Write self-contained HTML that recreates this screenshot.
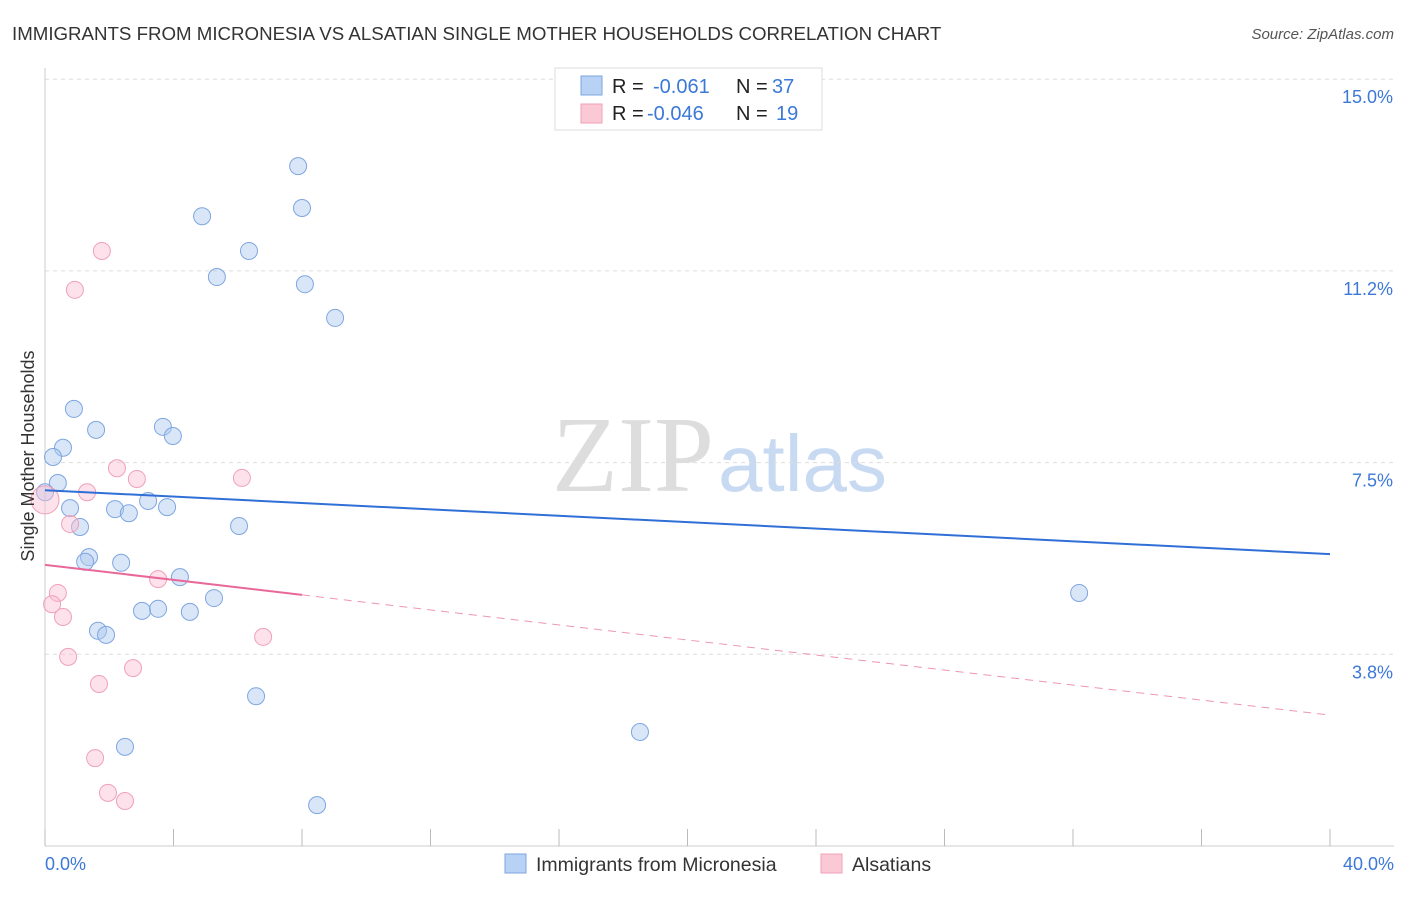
<!DOCTYPE html>
<html><head><meta charset="utf-8"><style>
body{margin:0;background:#fff;font-family:"Liberation Sans",sans-serif;}
svg text{font-family:"Liberation Sans",sans-serif;}
</style></head><body>
<svg id="chart" width="1406" height="892">
<text x="12" y="40" font-size="18.7" fill="#333">IMMIGRANTS FROM MICRONESIA VS ALSATIAN SINGLE MOTHER HOUSEHOLDS CORRELATION CHART</text>
<text x="1394" y="39" font-size="15" fill="#555" font-style="italic" text-anchor="end">Source: ZipAtlas.com</text>
<text x="714" y="491" font-size="108" fill="#ddd" text-anchor="end" style="font-family:'Liberation Serif',serif">ZIP</text>
<text x="718" y="491" font-size="80" fill="#c8daf2">atlas</text>
<g id="grid"></g><g id="axes"></g><g id="marks"></g>
<text transform="translate(34,456) rotate(-90)" font-size="18" fill="#333" text-anchor="middle">Single Mother Households</text>
<text x="45" y="870" font-size="18" fill="#3b78d8">0.0%</text>
<text x="1394" y="870" font-size="18" fill="#3b78d8" text-anchor="end">40.0%</text>
<g>
<rect x="555" y="68" width="267" height="62" fill="#fff" stroke="#ddd"/>
<rect x="581" y="76" width="21" height="19" fill="#b8d2f5" stroke="#7ea6e0"/>
<rect x="581" y="104" width="21" height="19" fill="#fbc8d6" stroke="#f0a0b8"/>
<text y="93" font-size="20" fill="#222"><tspan x="612">R =</tspan><tspan x="653" fill="#3b78d8">-0.061</tspan><tspan x="736">N =</tspan><tspan x="772" fill="#3b78d8">37</tspan></text>
<text y="120" font-size="20" fill="#222"><tspan x="612">R =</tspan><tspan x="647" fill="#3b78d8">-0.046</tspan><tspan x="736">N =</tspan><tspan x="776" fill="#3b78d8">19</tspan></text>
</g>
<g>
<rect x="505" y="854" width="21" height="19" fill="#b8d2f5" stroke="#7ea6e0"/>
<text x="536" y="871" font-size="19.5" fill="#333">Immigrants from Micronesia</text>
<rect x="821" y="854" width="21" height="19" fill="#fbc8d6" stroke="#f0a0b8"/>
<text x="852" y="871" font-size="19.5" fill="#333">Alsatians</text>
</g>
</svg>
<script>
const yTicks=[3.75,7.5,11.25,15];
const yTickLabels=["3.8%","7.5%","11.2%","15.0%"];
const xTicks=[0,4,8,12,16,20,24,28,32,36,40];
const blueX=[7.88,8.00,4.89,6.35,5.35,8.09,9.03,0.90,1.59,3.67,3.98,0.56,0.25,0.40,0.0,0.78,2.18,2.61,3.21,3.80,1.09,6.04,1.37,1.25,2.37,4.20,5.26,3.02,3.52,4.51,1.65,1.90,6.57,2.49,18.52,8.47,32.19];
const blueY=[13.30,12.48,12.32,11.64,11.13,10.99,10.33,8.55,8.14,8.20,8.02,7.79,7.61,7.10,6.92,6.61,6.59,6.51,6.75,6.63,6.24,6.26,5.65,5.56,5.54,5.26,4.85,4.60,4.64,4.58,4.21,4.13,2.93,1.94,2.23,0.80,4.95];
const pinkX=[1.77,0.93,2.24,2.86,6.13,1.31,0,0.78,3.52,0.40,0.22,0.56,6.79,0.72,2.74,1.68,1.56,1.96,2.49];
const pinkY=[11.64,10.88,7.39,7.18,7.20,6.92,6.77,6.30,5.22,4.95,4.73,4.48,4.09,3.70,3.48,3.17,1.72,1.04,0.88];
const blueTrend=[6.96,5.71];
const pinkTrend=[5.50,2.56];
const X=v=>45+v*32.125, Y=v=>846-v*51.12;
const NS="http://www.w3.org/2000/svg";
function mk(t,a,p){const e=document.createElementNS(NS,t);for(const k in a)e.setAttribute(k,a[k]);p.appendChild(e);return e;}
const grid=document.getElementById('grid'),axes=document.getElementById('axes'),marks=document.getElementById('marks');
yTicks.forEach((t,i)=>{
 const l=mk('line',{x1:45,x2:1394,y1:Y(t),y2:Y(t),stroke:'#ddd','stroke-dasharray':'4,4'},grid);
 
 
 const tx=mk('text',{x:1393,y:Y(t)+24,'font-size':18,fill:'#3b78d8','text-anchor':'end'},grid);
 tx.textContent=yTickLabels[i];
 
 
});
const ya=mk('line',{x1:45,x2:45,y1:68,y2:846,stroke:'#ccc'},axes);


const xa=mk('line',{x1:45,x2:1394,y1:846,y2:846,stroke:'#ccc'},axes);


xTicks.forEach(t=>{
 const l=mk('line',{x1:X(t),x2:X(t),y1:829,y2:846,stroke:'#bbb'},axes);
 
 
});
blueX.forEach((v,i)=>{
 const c=mk('circle',{cx:X(v),cy:Y(blueY[i]),r:8.5,fill:'rgba(170,200,240,0.45)',stroke:'#7ea6e0','stroke-width':1},marks);
 
 
});
pinkX.forEach((v,i)=>{
 const c=mk('circle',{cx:X(v),cy:Y(pinkY[i]),r:i==6?14:8.5,fill:'rgba(250,190,210,0.45)',stroke:'#f0a0b8','stroke-width':1},marks);
 
 
});
const bt=mk('line',{x1:X(0),y1:Y(blueTrend[0]),x2:X(40),y2:Y(blueTrend[1]),stroke:'#2f6fd6','stroke-width':2},marks);


const pAt=x=>pinkTrend[0]+(pinkTrend[1]-pinkTrend[0])*x/40;
const ps=mk('line',{x1:X(0),y1:Y(pinkTrend[0]),x2:X(8),y2:Y(pAt(8)),stroke:'#e8689a','stroke-width':2},marks);


const pd=mk('line',{x1:X(8),y1:Y(pAt(8)),x2:X(40),y2:Y(pinkTrend[1]),stroke:'#e8689a','stroke-width':1,'stroke-dasharray':'8,6',opacity:0.7},marks);


</script>
</body></html>
